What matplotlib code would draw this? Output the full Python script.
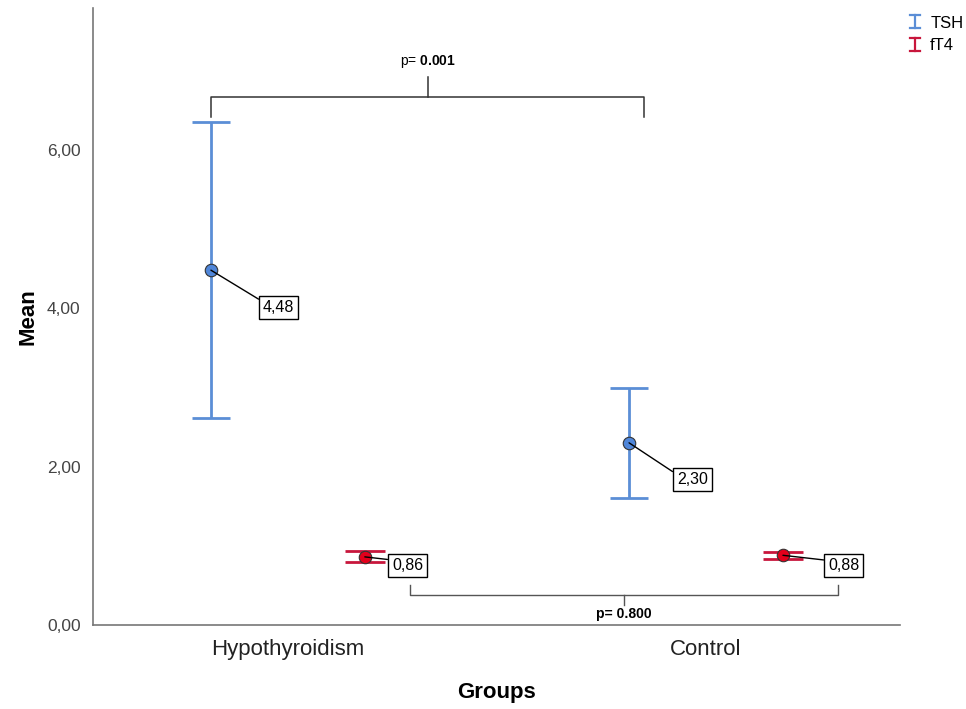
import matplotlib
matplotlib.use("Agg")
import matplotlib.pyplot as plt
import numpy as np
from matplotlib.legend_handler import HandlerBase
from matplotlib.lines import Line2D

plt.rcParams['font.family'] = ['Liberation Sans', 'DejaVu Sans']
plt.rcParams['mathtext.fontset'] = 'custom'
plt.rcParams['mathtext.rm'] = 'Liberation Sans'
plt.rcParams['mathtext.bf'] = 'Liberation Sans:bold'

groups = ["Hypothyroidism", "Control"]
series = ["TSH", "fT4"]
tsh_mean = [4.48, 2.30]
tsh_low = [2.61, 1.60]
tsh_high = [6.35, 2.99]
ft4_mean = [0.86, 0.88]
ft4_low = [0.79, 0.83]
ft4_high = [0.93, 0.92]
tsh_labels = ["4,48", "2,30"]
ft4_labels = ["0,86", "0,88"]
yticks = [0, 2, 4, 6]
ytick_labels = ["0,00", "2,00", "4,00", "6,00"]
p_top = "0.001"
p_bottom = "0.800"

blue_line = "#5B8ED6"
blue_fill = "#4F86D9"
red_line = "#C8163C"
red_fill = "#E3001B"

fig = plt.figure(figsize=(9.66, 7.09), dpi=100)
ax = fig.add_axes([0.0963, 0.1185, 0.8354, 0.8702])

x = np.arange(len(groups))
off = 0.184

def draw(xs, mean, low, high, lc, fc, cap):
    mean = np.array(mean); low = np.array(low); high = np.array(high)
    ax.errorbar(xs, mean, yerr=[mean - low, high - mean], fmt='none',
                ecolor=lc, elinewidth=2, capsize=cap, capthick=2, zorder=2)
    ax.plot(xs, mean, 'o', ms=9, mfc=fc, mec="#333333", mew=0.8, zorder=3)

draw(x - off, tsh_mean, tsh_low, tsh_high, blue_line, blue_fill, 13.5)
draw(x + off, ft4_mean, ft4_low, ft4_high, red_line, red_fill, 14.5)

bbox = dict(boxstyle='square,pad=0.25', fc='white', ec='black', lw=1)
tsh_off = [(37.5, -26.6), (34.5, -26.6)]
ft4_off = [(19.5, -6.0), (32.5, -7.5)]
for i in range(2):
    ax.annotate(tsh_labels[i], (x[i] - off, tsh_mean[i]), xytext=tsh_off[i],
                textcoords='offset points', ha='left', va='center', fontsize=11.5,
                bbox=bbox, zorder=5,
                arrowprops=dict(arrowstyle='-', color='black', lw=1,
                                shrinkA=0, shrinkB=0, relpos=(0, 0.85)))
    ax.annotate(ft4_labels[i], (x[i] + off, ft4_mean[i]), xytext=ft4_off[i],
                textcoords='offset points', ha='left', va='center', fontsize=11.5,
                bbox=bbox, zorder=5,
                arrowprops=dict(arrowstyle='-', color='black', lw=1,
                                shrinkA=0, shrinkB=0, relpos=(0, 0.85)))

# brackets
def bracket(x0, x1, yh, yend, ytip, color, lw):
    xm = (x0 + x1) / 2
    ax.plot([x0, x0, x1, x1], [yend, yh, yh, yend], color=color, lw=lw,
            solid_joinstyle='round')
    ax.plot([xm, xm], [yh, ytip], color=color, lw=lw)

bracket(-off, 0.852, 6.67, 6.42, 6.92, "#333333", 1.1)
ax.text(0.335, 7.12, "p= " + r"$\mathbf{" + p_top + "}$", ha='center', va='center',
        fontsize=10)
bracket(0.292, 1.316, 0.38, 0.50, 0.25, "#555555", 1.0)
ax.text(0.804, 0.14, "p= " + p_bottom, ha='center', va='center', fontsize=10,
        fontweight='bold')

ax.set_xlim(-0.466, 1.464)
ax.set_ylim(0, 7.79)
ax.set_xticks(x)
ax.set_xticklabels(groups, fontsize=16, color="#222222")
ax.set_yticks(yticks)
ax.set_yticklabels(ytick_labels, fontsize=12.5, color="#444444")
ax.tick_params(length=0)
ax.tick_params(axis='x', pad=10)
ax.tick_params(axis='y', pad=9)
for s in ['top', 'right']:
    ax.spines[s].set_visible(False)
for s in ['left', 'bottom']:
    ax.spines[s].set_color("#777777")
    ax.spines[s].set_linewidth(1.2)
ax.set_ylabel("Mean", fontsize=16, fontweight='bold', va='center')
ax.yaxis.set_label_coords(-0.0805, 0.5)
ax.set_xlabel("Groups", fontsize=16, fontweight='bold', va='center')
ax.xaxis.set_label_coords(0.5, -0.110)

class IHandler(HandlerBase):
    def __init__(self, color):
        super().__init__()
        self.color = color
    def create_artists(self, legend, orig_handle, xdescent, ydescent, width,
                       height, fontsize, trans):
        cx = width / 2 - xdescent
        h = height * 1.1
        y0 = -ydescent + (height - h) / 2
        w = 3.5
        return [Line2D([cx, cx], [y0, y0 + h], color=self.color, lw=1.6, transform=trans),
                Line2D([cx - w, cx + w], [y0, y0], color=self.color, lw=1.6, transform=trans),
                Line2D([cx - w, cx + w], [y0 + h, y0 + h], color=self.color, lw=1.6, transform=trans)]

h1 = Line2D([], [], color=blue_line)
h2 = Line2D([], [], color=red_line)
fig.legend([h1, h2], series, loc='upper left', bbox_to_anchor=(0.925, 0.999),
           frameon=False, fontsize=12, handlelength=0.8, handletextpad=0.5,
           labelspacing=0.45,
           handler_map={h1: IHandler(blue_line), h2: IHandler(red_line)})

fig.savefig("out.png", dpi=100)
